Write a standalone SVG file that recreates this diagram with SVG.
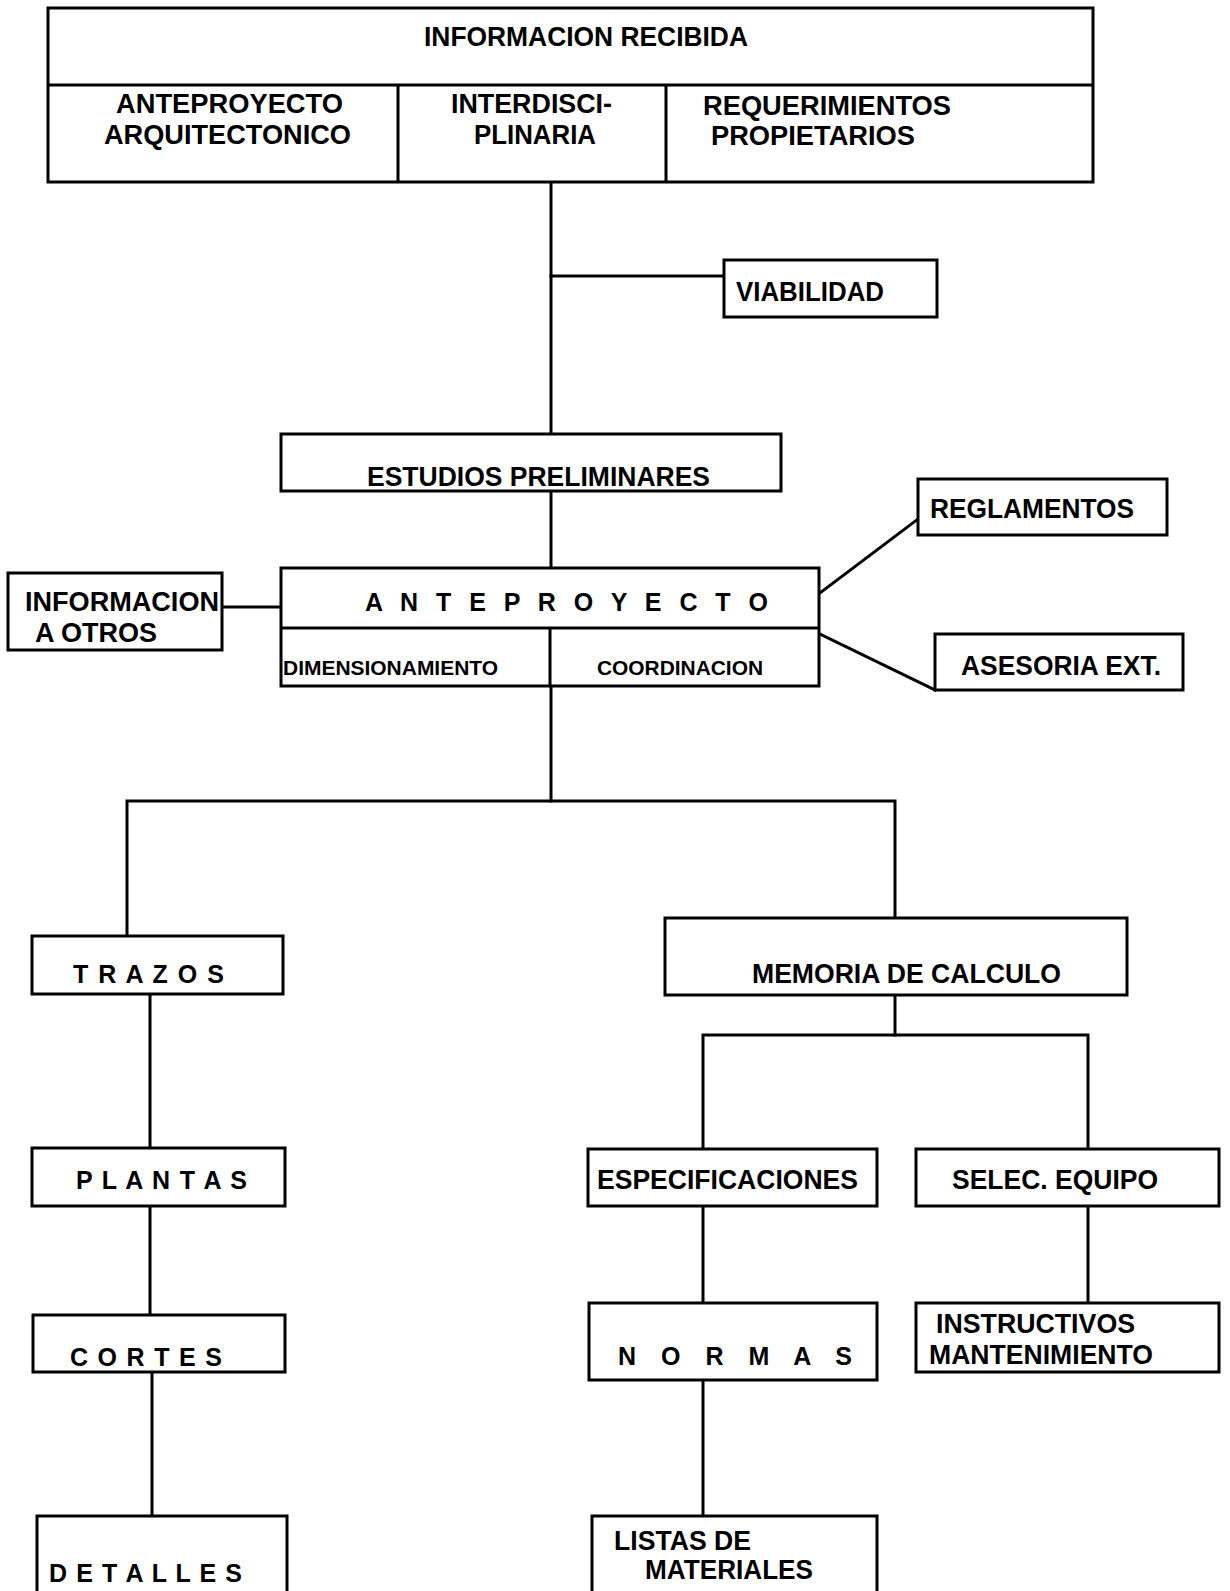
<svg xmlns="http://www.w3.org/2000/svg" width="1230" height="1591" viewBox="0 0 1230 1591">
  <style>
    .box { fill: #ffffff; stroke: #000000; stroke-width: 3; }
    .sep { fill: none; stroke: #000000; stroke-width: 3; }
    .wire { fill: none; stroke: #000000; stroke-width: 3; stroke-linecap: square; }
    text { font-family: "Liberation Sans", Arial, Helvetica, sans-serif; font-weight: bold; font-size: 27px; fill: #000000; }
    .small { font-size: 20px; }
    .spaced { font-size: 25px; }
  </style>
  <rect width="1230" height="1591" fill="#ffffff"/>

  <!-- connectors -->
  <g id="connectors">
    <path class="wire" d="M551 182 V434"/>
    <path class="wire" d="M551 276 H724"/>
    <path class="wire" d="M551 491 V568"/>
    <path class="wire" d="M222 607 H281"/>
    <path class="wire" d="M820 593 L918 519"/>
    <path class="wire" d="M820 634 L935 690"/>
    <path class="wire" d="M551 686 V801"/>
    <path class="wire" d="M127 936 V801 H895 V918"/>
    <path class="wire" d="M150 994 V1148"/>
    <path class="wire" d="M150 1206 V1315"/>
    <path class="wire" d="M152 1372 V1516"/>
    <path class="wire" d="M895 995 V1035"/>
    <path class="wire" d="M703 1149 V1035 H1088 V1149"/>
    <path class="wire" d="M703 1206 V1303"/>
    <path class="wire" d="M703 1380 V1516"/>
    <path class="wire" d="M1088 1206 V1303"/>
  </g>

  <!-- header block with its three sub-fields -->
  <g id="informacion-recibida">
    <rect class="box" x="48" y="8" width="1045" height="174"/>
    <path class="sep" d="M48 85 H1093 M398 85 V182 M666 85 V182"/>
    <text x="424" y="46" textLength="324" lengthAdjust="spacingAndGlyphs">INFORMACION RECIBIDA</text>
  </g>
  <g id="anteproyecto-arquitectonico">
    <text x="116" y="113" textLength="227" lengthAdjust="spacingAndGlyphs">ANTEPROYECTO</text>
    <text x="104" y="144" textLength="247" lengthAdjust="spacingAndGlyphs">ARQUITECTONICO</text>
  </g>
  <g id="interdisciplinaria">
    <text x="451" y="113" textLength="161" lengthAdjust="spacingAndGlyphs">INTERDISCI-</text>
    <text x="474" y="144" textLength="122" lengthAdjust="spacingAndGlyphs">PLINARIA</text>
  </g>
  <g id="requerimientos-propietarios">
    <text x="703" y="115" textLength="248" lengthAdjust="spacingAndGlyphs">REQUERIMIENTOS</text>
    <text x="711" y="145" textLength="204" lengthAdjust="spacingAndGlyphs">PROPIETARIOS</text>
  </g>

  <g id="viabilidad">
    <rect class="box" x="724" y="260" width="213" height="57"/>
    <text x="736" y="301" textLength="148" lengthAdjust="spacingAndGlyphs">VIABILIDAD</text>
  </g>

  <g id="estudios-preliminares">
    <rect class="box" x="281" y="434" width="500" height="57"/>
    <text x="367" y="486" textLength="343" lengthAdjust="spacingAndGlyphs">ESTUDIOS PRELIMINARES</text>
  </g>

  <g id="anteproyecto">
    <rect class="box" x="281" y="568" width="538" height="118"/>
    <path class="sep" d="M281 628 H819 M550 628 V686"/>
    <text class="spaced" x="365" y="611" textLength="403">A N T E P R O Y E C T O</text>
    <text class="small" x="283" y="675" textLength="215" lengthAdjust="spacingAndGlyphs">DIMENSIONAMIENTO</text>
    <text class="small" x="597" y="675" textLength="166" lengthAdjust="spacingAndGlyphs">COORDINACION</text>
  </g>

  <g id="informacion-a-otros">
    <rect class="box" x="8" y="573" width="214" height="77"/>
    <text x="25" y="611" textLength="194" lengthAdjust="spacingAndGlyphs">INFORMACION</text>
    <text x="35" y="642" textLength="122" lengthAdjust="spacingAndGlyphs">A OTROS</text>
  </g>

  <g id="reglamentos">
    <rect class="box" x="918" y="479" width="249" height="56"/>
    <text x="930" y="518" textLength="204" lengthAdjust="spacingAndGlyphs">REGLAMENTOS</text>
  </g>

  <g id="asesoria-ext">
    <rect class="box" x="935" y="634" width="248" height="56"/>
    <text x="961" y="675" textLength="200" lengthAdjust="spacingAndGlyphs">ASESORIA EXT.</text>
  </g>

  <!-- drawings branch -->
  <g id="trazos">
    <rect class="box" x="32" y="936" width="251" height="58"/>
    <text class="spaced" x="73" y="983" textLength="151">T R A Z O S</text>
  </g>
  <g id="plantas">
    <rect class="box" x="32" y="1148" width="253" height="58"/>
    <text class="spaced" x="76" y="1189" textLength="171">P L A N T A S</text>
  </g>
  <g id="cortes">
    <rect class="box" x="33" y="1315" width="252" height="57"/>
    <text class="spaced" x="70" y="1366" textLength="152">C O R T E S</text>
  </g>
  <g id="detalles">
    <rect class="box" x="37" y="1516" width="250" height="90"/>
    <text class="spaced" x="49" y="1582" textLength="193">D E T A L L E S</text>
  </g>

  <!-- calculation branch -->
  <g id="memoria-de-calculo">
    <rect class="box" x="665" y="918" width="462" height="77"/>
    <text x="752" y="983" textLength="309" lengthAdjust="spacingAndGlyphs">MEMORIA DE CALCULO</text>
  </g>
  <g id="especificaciones">
    <rect class="box" x="588" y="1149" width="289" height="57"/>
    <text x="597" y="1189" textLength="261" lengthAdjust="spacingAndGlyphs">ESPECIFICACIONES</text>
  </g>
  <g id="selec-equipo">
    <rect class="box" x="916" y="1149" width="303" height="57"/>
    <text x="952" y="1189" textLength="206" lengthAdjust="spacingAndGlyphs">SELEC. EQUIPO</text>
  </g>
  <g id="normas">
    <rect class="box" x="589" y="1303" width="288" height="77"/>
    <text class="spaced" x="618" y="1365" textLength="234">N O R M A S</text>
  </g>
  <g id="listas-de-materiales">
    <rect class="box" x="592" y="1516" width="285" height="90"/>
    <text x="614" y="1550" textLength="137" lengthAdjust="spacingAndGlyphs">LISTAS DE</text>
    <text x="645" y="1579" textLength="168" lengthAdjust="spacingAndGlyphs">MATERIALES</text>
  </g>
  <g id="instructivos-mantenimiento">
    <rect class="box" x="916" y="1303" width="303" height="69"/>
    <text x="936" y="1333" textLength="199" lengthAdjust="spacingAndGlyphs">INSTRUCTIVOS</text>
    <text x="929" y="1364" textLength="224" lengthAdjust="spacingAndGlyphs">MANTENIMIENTO</text>
  </g>
</svg>
